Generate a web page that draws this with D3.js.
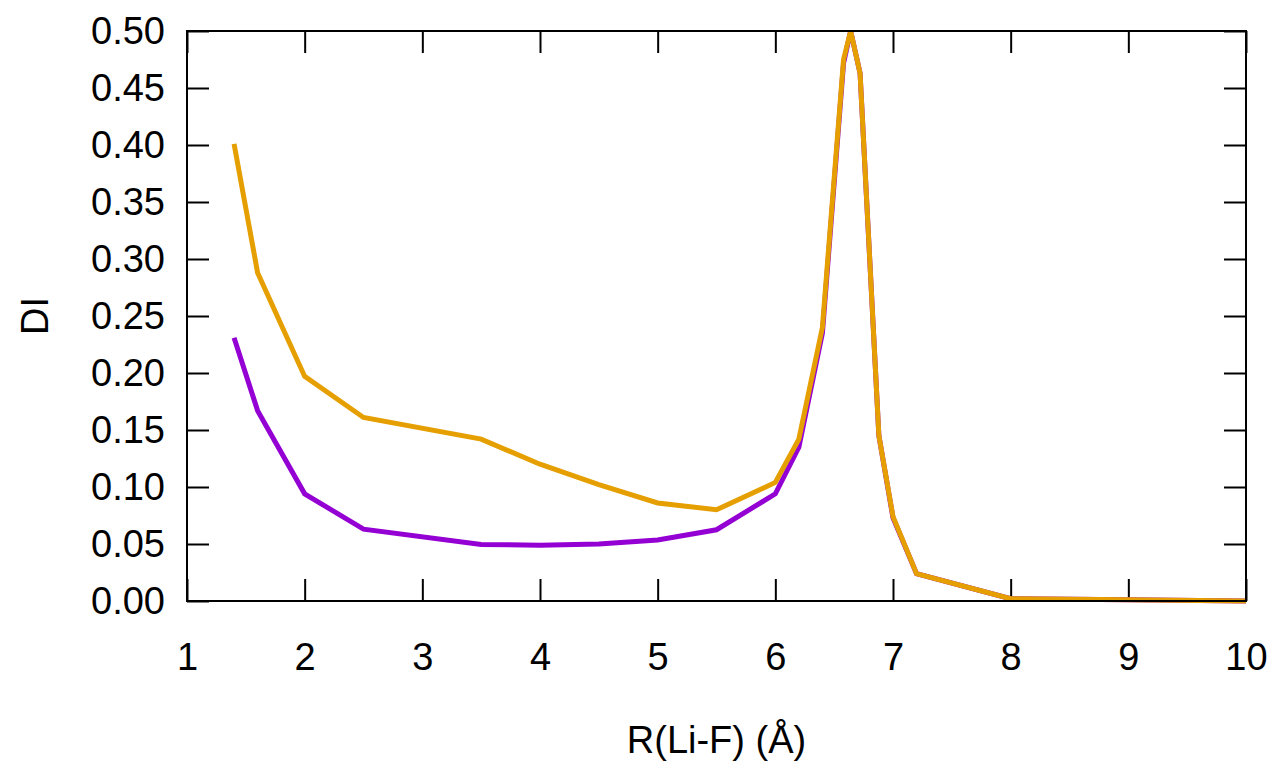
<!DOCTYPE html>
<html>
  <head>
    <meta charset="utf-8">
    <title>DI vs R(Li-F)</title>
    <script src="https://d3js.org/d3.v7.min.js"></script>
    <style type="text/css">
    body { margin: 0; background: #fff; }
    text { font-family: "Liberation Sans", Arial, sans-serif; fill: #000; }
    </style>
  </head>
  <body>
    <div id="chart"></div>

    <script>
      // distances (Å)
      var rValues = [1.4, 1.6, 2.0, 2.5, 3.5, 4.0, 4.5, 5.0, 5.5, 6.0, 6.2, 6.4, 6.58, 6.64, 6.72, 6.88, 7.0, 7.2, 8.0, 9.0, 10.0];
      // purple series
      var diPurple = [0.231, 0.167, 0.094, 0.063, 0.0495, 0.049, 0.050, 0.0535, 0.0625, 0.094, 0.135, 0.235, 0.472, 0.500, 0.463, 0.145, 0.073, 0.024, 0.002, 0.001, 0.0];
      // orange series
      var diOrange = [0.401, 0.288, 0.197, 0.161, 0.142, 0.120, 0.102, 0.086, 0.080, 0.104, 0.142, 0.240, 0.475, 0.500, 0.463, 0.145, 0.074, 0.024, 0.002, 0.001, 0.0];

      var xTicks = [1, 2, 3, 4, 5, 6, 7, 8, 9, 10];
      var yTicks = [0, 0.05, 0.10, 0.15, 0.20, 0.25, 0.30, 0.35, 0.40, 0.45, 0.50];

      var width = 1275, height = 762;
      // plot area (window.top is reserved, so no "top" here)
      var pl = 187, pr = 1246, pt = 31, pb = 601;
      var fontSize = 38;

      var svg = d3.select('#chart').append('svg')
          .attr('width', width)
          .attr('height', height);

      var x = d3.scaleLinear().domain([1, 10]).range([pl, pr]);
      var y = d3.scaleLinear().domain([0, 0.5]).range([pb, pt]);

      var tickLen = 22;

      function styleTicks(g){
        g.select('.domain').remove();
        g.selectAll('line').attr('stroke', '#000').attr('stroke-width', 2);
        g.selectAll('text').attr('font-size', fontSize).attr('font-family', null);
      }

      // bottom axis, labels below, ticks pointing in
      svg.append('g')
          .attr('transform', 'translate(0,' + pb + ')')
          .call(d3.axisBottom(x).tickValues(xTicks).tickSize(-tickLen).tickPadding(tickLen + 20).tickFormat(d3.format('d')))
          .call(styleTicks);

      // top axis ticks only
      svg.append('g')
          .attr('transform', 'translate(0,' + pt + ')')
          .call(d3.axisTop(x).tickValues(xTicks).tickSize(-tickLen).tickFormat(''))
          .call(styleTicks);

      // left axis
      svg.append('g')
          .attr('transform', 'translate(' + pl + ',0)')
          .call(d3.axisLeft(y).tickValues(yTicks).tickSize(-tickLen).tickPadding(22).tickFormat(d3.format('.2f')))
          .call(styleTicks);

      // right axis ticks only
      svg.append('g')
          .attr('transform', 'translate(' + pr + ',0)')
          .call(d3.axisRight(y).tickValues(yTicks).tickSize(-tickLen).tickFormat(''))
          .call(styleTicks);

      var line = d3.line()
          .x(function(d){ return x(d[0]); })
          .y(function(d){ return y(d[1]); });

      svg.append('path')
          .datum(d3.zip(rValues, diPurple))
          .attr('d', line)
          .attr('fill', 'none')
          .attr('stroke', '#9400d3')
          .attr('stroke-width', 5);

      svg.append('path')
          .datum(d3.zip(rValues, diOrange))
          .attr('d', line)
          .attr('fill', 'none')
          .attr('stroke', '#e69f00')
          .attr('stroke-width', 5);

      // frame
      svg.append('rect')
          .attr('x', pl).attr('y', pt)
          .attr('width', pr - pl).attr('height', pb - pt)
          .attr('fill', 'none')
          .attr('stroke', '#000')
          .attr('stroke-width', 2);

      // axis titles
      svg.append('text')
          .attr('x', (pl + pr) / 2)
          .attr('y', 753)
          .attr('text-anchor', 'middle')
          .attr('font-size', fontSize)
          .text('R(Li-F) (Å)');

      svg.append('text')
          .attr('transform', 'translate(48,' + ((pt + pb) / 2) + ') rotate(-90)')
          .attr('text-anchor', 'middle')
          .attr('font-size', fontSize)
          .text('DI');
    </script>
  </body>
</html>
